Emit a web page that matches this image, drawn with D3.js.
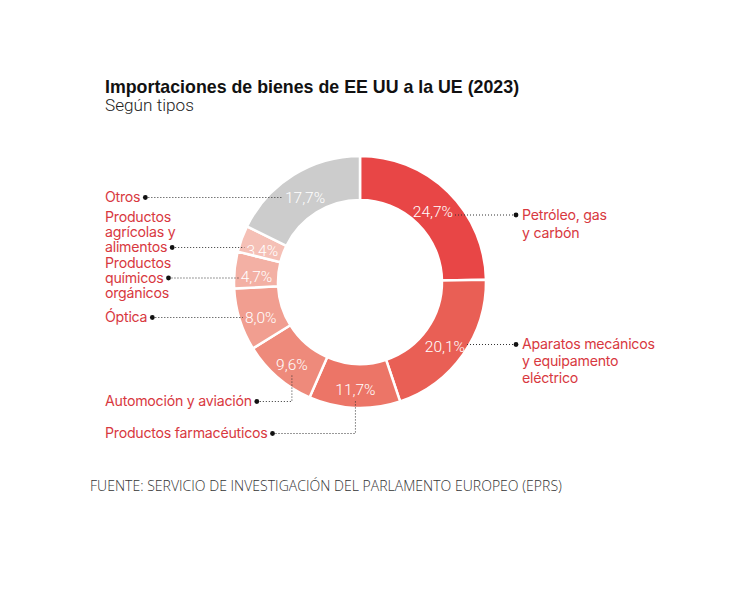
<!DOCTYPE html>
<html><head><meta charset="utf-8">
<script src="https://cdn.jsdelivr.net/npm/d3@7"></script>
<style>
body{margin:0;background:#fff;}
svg{display:block;}
</style></head>
<body>
<svg id="chart" width="750" height="595"></svg>
<script>
// ---- data ----
const categories = ["Petróleo, gas y carbón","Aparatos mecánicos y equipamento eléctrico","Productos farmacéuticos","Automoción y aviación","Óptica","Productos químicos orgánicos","Productos agrícolas y alimentos","Otros"];
const values = [24.7, 20.1, 11.7, 9.6, 8.0, 4.7, 3.4, 17.7];
const valueLabels = ["24,7%","20,1%","11,7%","9,6%","8,0%","4,7%","3,4%","17,7%"];
const labelLines = [["Petróleo, gas","y carbón"],["Aparatos mecánicos","y equipamento","eléctrico"],["Productos farmacéuticos"],["Automoción y aviación"],["Óptica"],["Productos","químicos","orgánicos"],["Productos","agrícolas y","alimentos"],["Otros"]];
const colors = ["#e84646","#e95f55","#ec7567","#ee8a7b","#f19e90","#f3b0a4","#f5c0b6","#cccccc"];

// ---- layout (annotation placement) ----
const cx = 360, cy = 282, R = 126, r = 82;
const labelLayout = [
  {side:"right", y:219.5, lh:18, lead:0},
  {side:"right", y:349,   lh:17, lead:0},
  {side:"left",  y:438,   lh:15, lead:0, elbow:true},
  {side:"left",  y:406,   lh:15, lead:0, elbow:true},
  {side:"left",  y:322,   lh:15, lead:0},
  {side:"left",  y:267.5, lh:15, lead:1},
  {side:"left",  y:222,   lh:15, lead:2},
  {side:"left",  y:202,   lh:15, lead:0}
];
const leftX = 105, rightX = 522;
const red = "#d8393f";
const font = "Inter, 'Liberation Sans', Arial, sans-serif";

const svg = d3.select("#chart");

svg.append("text").attr("x",105).attr("y",93)
  .attr("font-family","'Liberation Sans', Arial, sans-serif").attr("font-weight",700).attr("font-size",17.8)
  .attr("fill","#111")
  .text("Importaciones de bienes de EE UU a la UE (2023)");
svg.append("text").attr("x",105).attr("y",111)
  .attr("font-family","Roboto, sans-serif").attr("font-weight",300).attr("font-size",17.2)
  .attr("fill","#222")
  .text("Según tipos");

const pie = d3.pie().sort(null).value(d=>d);
const arcs = pie(values);
const arc = d3.arc().innerRadius(r).outerRadius(R);
const labelArc = d3.arc().innerRadius(104).outerRadius(104);

const g = svg.append("g").attr("transform",`translate(${cx},${cy})`);
g.selectAll("path.slice").data(arcs).join("path")
  .attr("class","slice")
  .attr("d",arc)
  .attr("fill",(d,i)=>colors[i])
  .attr("stroke","#fff").attr("stroke-width",2.5);

const pct = g.selectAll("text.pct").data(arcs).join("text")
  .attr("class","pct")
  .attr("x",d=>labelArc.centroid(d)[0])
  .attr("y",d=>labelArc.centroid(d)[1] + 4)
  .attr("dy","0.36em")
  .attr("text-anchor","middle")
  .attr("font-family","Roboto, sans-serif").attr("font-weight",300).attr("font-size",15.5)
  .attr("fill","#fff")
  .text((d,i)=>valueLabels[i]);

const lab = svg.append("g");
arcs.forEach((d,i)=>{
  const L = labelLayout[i];
  const x = L.side==="left"?leftX:rightX;
  const t = lab.append("text").attr("font-family",font).attr("font-size",14.2)
    .attr("fill",red).attr("letter-spacing",-0.25);
  labelLines[i].forEach((s,k)=>{
    t.append("tspan").attr("x",x).attr("y",L.y+k*L.lh).text(s);
  });
  const tsp = t.selectAll("tspan").nodes()[L.lead];
  const leadY = L.y + L.lead*L.lh - 4.5;
  const c = labelArc.centroid(d);
  const pbox = pct.nodes()[i].getBBox();
  let dotX;
  if(L.side==="left"){
    dotX = x + tsp.getComputedTextLength() + 5;
  } else {
    dotX = x - 6;
  }
  let pts;
  if(L.elbow){
    const vx = cx + c[0];
    const topY = cy + pbox.y + pbox.height + 1;
    pts = [[dotX,leadY],[vx,leadY],[vx,topY]];
  } else if(L.side==="left"){
    pts = [[dotX,leadY],[cx + pbox.x - 2, leadY]];
  } else {
    pts = [[dotX,leadY],[cx + pbox.x + pbox.width + 2, leadY]];
  }
  lab.append("path").attr("d",d3.line()(pts))
    .attr("fill","none").attr("stroke","#333").attr("stroke-width",1)
    .attr("stroke-dasharray","1,2");
  lab.append("circle").attr("cx",dotX).attr("cy",leadY).attr("r",2.4).attr("fill","#111");
});

svg.append("text").attr("x",90).attr("y",491)
  .attr("font-family","'Open Sans', sans-serif").attr("font-weight",300).attr("font-size",14.05)
  .attr("fill","#333")
  .text("FUENTE: SERVICIO DE INVESTIGACIÓN DEL PARLAMENTO EUROPEO (EPRS)");
</script>
</body></html>
